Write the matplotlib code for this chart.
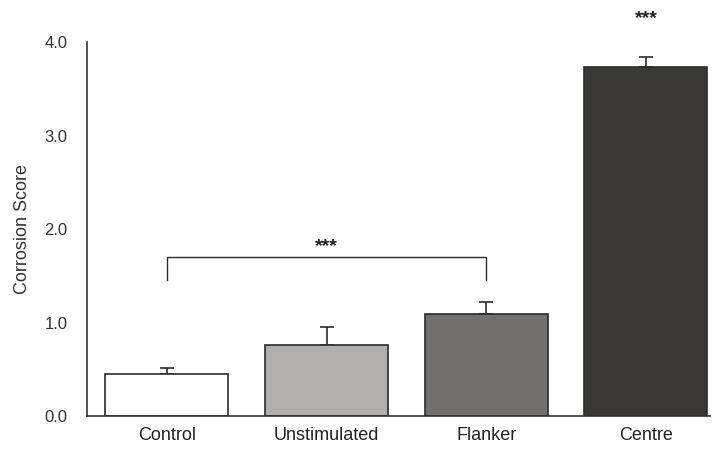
import numpy as np
import matplotlib.pyplot as plt

plt.rcParams['font.family'] = ['Liberation Sans', 'DejaVu Sans']

# Data
groups = ['Control', 'Unstimulated', 'Flanker', 'Centre']
scores = [0.45, 0.76, 1.09, 3.73]
errors = [0.06, 0.19, 0.13, 0.11]
colors = ['#ffffff', '#b1aeac', '#736f6d', '#3a3836']

fig = plt.figure(figsize=(7.17, 4.53), dpi=100)
ax = fig.add_axes([0.1213, 0.0817, 0.8687, 0.8253])

x = np.arange(len(groups))
ax.bar(x, scores, width=0.77, color=colors, edgecolor='#2b2b2b', linewidth=1.2, zorder=2)
ax.errorbar(x, scores, yerr=[np.zeros(len(errors)), errors], fmt='none',
            ecolor='#2b2b2b', elinewidth=1.2, capsize=5, capthick=1.2, zorder=1)

# significance bracket Control vs Flanker
ax.plot([0, 0, 2, 2], [1.45, 1.70, 1.70, 1.45], color='#2b2b2b', lw=1.0)
ax.text(1, 1.72, '***', ha='center', va='bottom', fontsize=14, fontweight='bold', color='#222222')
ax.text(3, 4.16, '***', ha='center', va='bottom', fontsize=14, fontweight='bold',
        color='#222222', clip_on=False)

ax.set_xlim(-0.5, 3.40)
ax.set_ylim(0, 4.0)
ax.set_yticks([0, 1, 2, 3, 4])
ax.set_yticklabels(['0.0', '1.0', '2.0', '3.0', '4.0'], fontsize=12, color='#333333')
ax.set_xticks(x)
ax.set_xticklabels(groups, fontsize=13, color='#222222')
ax.tick_params(axis='both', length=0)
ax.tick_params(axis='y', pad=14)
ax.tick_params(axis='x', pad=8)
ax.set_ylabel('Corrosion Score', fontsize=13, color='#333333', labelpad=10)

for s in ['top', 'right']:
    ax.spines[s].set_visible(False)
for s in ['left', 'bottom']:
    ax.spines[s].set_color('#333333')
    ax.spines[s].set_linewidth(1.2)

plt.savefig('out.png', dpi=100)
